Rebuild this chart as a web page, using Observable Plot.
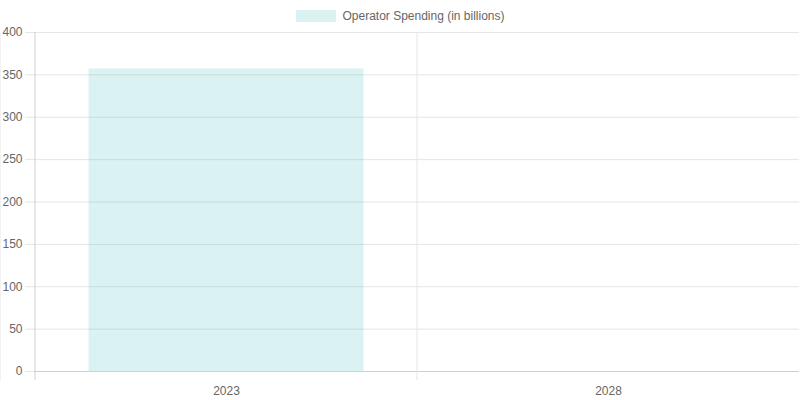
<!DOCTYPE html>
<html>
<head>
<meta charset="utf-8">
<script src="https://cdn.jsdelivr.net/npm/d3@7"></script>
<script src="https://cdn.jsdelivr.net/npm/@observablehq/plot@0.6"></script>
<style>
  html, body { margin: 0; padding: 0; background: #fff; }
  body { width: 800px; height: 400px; overflow: hidden; font-family: "Liberation Sans", Arial, sans-serif; }
  #legend { height: 24px; display: flex; justify-content: center; align-items: center; padding-left: 1px; box-sizing: border-box; padding-top: 8px; font-size: 12px; color: #666; }
  #legend .sw { width: 40px; height: 12px; background: rgba(75,192,192,0.2); margin-right: 6px; }
  #chart svg { display: block; }
</style>
</head>
<body>
<div id="legend"><span class="sw"></span><span>Operator Spending (in billions)</span></div>
<div id="chart"></div>
<script>
const years = ["2023", "2028"];
const spending = [357, null];
const seriesName = "Operator Spending (in billions)";
const yTicks = [0, 50, 100, 150, 200, 250, 300, 350, 400];

const data = years.map((y, i) => ({year: y, value: spending[i]}));
const gridColor = "#e5e5e5";
const barColor = "rgba(75,192,192,0.2)";

const W = 800, H = 376;
const mL = 34, mR = 1, mT = 8, mB = 29;
const step = (W - mL - mR) / years.length;
const inset = step * 0.14;

// vertical grid lines at category boundaries, with small ticks below the axis
function boundaryGrid(index, scales, values, dims) {
  const g = d3.create("svg:g");
  const xs = years.map(c => scales.x(c));
  xs.push(scales.x(years[years.length - 1]) + scales.x.bandwidth);
  xs.forEach((x, i) => {
    g.append("line")
      .attr("x1", x).attr("x2", x)
      .attr("y1", dims.marginTop)
      .attr("y2", dims.height - dims.marginBottom + 9)
      .attr("stroke", i === 0 ? "#d0d0d0" : gridColor)
      .attr("stroke-width", 1);
  });
  return g.node();
}

const chart = Plot.plot({
  width: W,
  height: H,
  marginLeft: mL,
  marginRight: mR,
  marginTop: mT,
  marginBottom: mB,
  style: {fontFamily: "'Liberation Sans', Arial, sans-serif", fontSize: "12px", color: "#666", background: "#fff"},
  x: {domain: years, padding: 0, label: null},
  y: {domain: [0, 400], ticks: yTicks, label: null},
  marks: [
    Plot.gridY(yTicks, {stroke: gridColor, strokeOpacity: 1}),
    Plot.barY(data.filter(d => d.value != null), {x: "year", y: "value", fill: barColor, insetLeft: inset, insetRight: inset}),
    Plot.ruleY([0], {stroke: "#d0d0d0"}),
    Plot.axisY({ticks: yTicks, tickSize: 9, tickPadding: 3, stroke: gridColor, strokeOpacity: 1, fill: "#666", fontSize: 12}),
    Plot.axisX({tickSize: 0, tickPadding: 15, fill: "#666", fontSize: 12}),
    boundaryGrid
  ]
});
document.getElementById("chart").appendChild(chart);
</script>
</body>
</html>
